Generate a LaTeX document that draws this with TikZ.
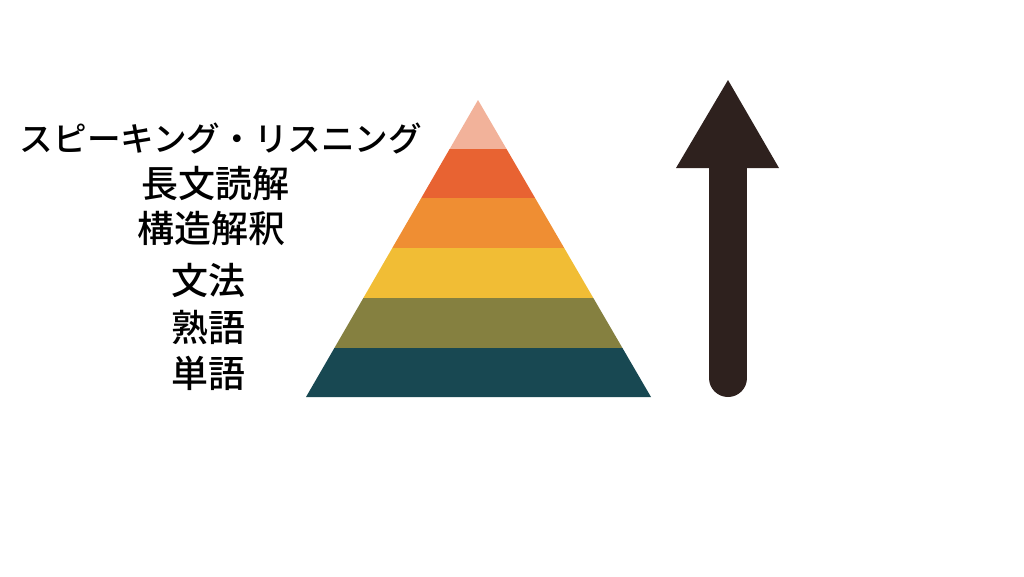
\documentclass[tikz,border=0pt]{standalone}
\usepackage{fontspec}
\newfontfamily\jpfont{Noto Sans CJK JP Medium}
\definecolor{bandA}{HTML}{F2B29A}
\definecolor{bandB}{HTML}{E86332}
\definecolor{bandC}{HTML}{EF8E33}
\definecolor{bandD}{HTML}{F1BD35}
\definecolor{bandE}{HTML}{858040}
\definecolor{bandF}{HTML}{184852}
\definecolor{arrowbrown}{HTML}{2E211E}
\tikzset{
  lbl/.style={anchor=center, inner sep=0pt, font=\jpfont\fontsize{37}{37}\selectfont},
  lblsmall/.style={lbl, font=\jpfont\fontsize{33.6}{34}\selectfont}
}
\begin{document}
\begin{tikzpicture}[x=1pt, y=-1pt]
    \useasboundingbox (0,0) rectangle (1024,576);
    % pyramid
    \coordinate (apex) at (478,100);
    \coordinate (bl) at (306,397);
    \coordinate (br) at (651,397);
    \begin{scope}
      \clip (apex) -- (bl) -- (br) -- cycle;
      \foreach \ytop/\ybot/\col in {90/149/bandA, 149/198/bandB, 198/248/bandC,
                                    248/298/bandD, 298/347.5/bandE, 347.5/400/bandF}
        \fill[\col] (290,\ytop) rectangle (670,\ybot);
    \end{scope}
    % arrow
    \draw[arrowbrown, line width=38pt, line cap=round] (728,167) -- (728,378);
    \fill[arrowbrown] (676,168) -- (728,80) -- (779,168) -- cycle;
    % labels
    \node[lblsmall] (speak) at (221,139) {スピーキング・リスニング};
    \node[lbl] (read) at (215,183) {長文読解};
    \node[lbl] (struct) at (211,228) {構造解釈};
    \node[lbl] (gram) at (208,280) {文法};
    \node[lbl] (idiom) at (208,327) {熟語};
    \node[lbl] (word) at (208,373) {単語};
\end{tikzpicture}
\end{document}
